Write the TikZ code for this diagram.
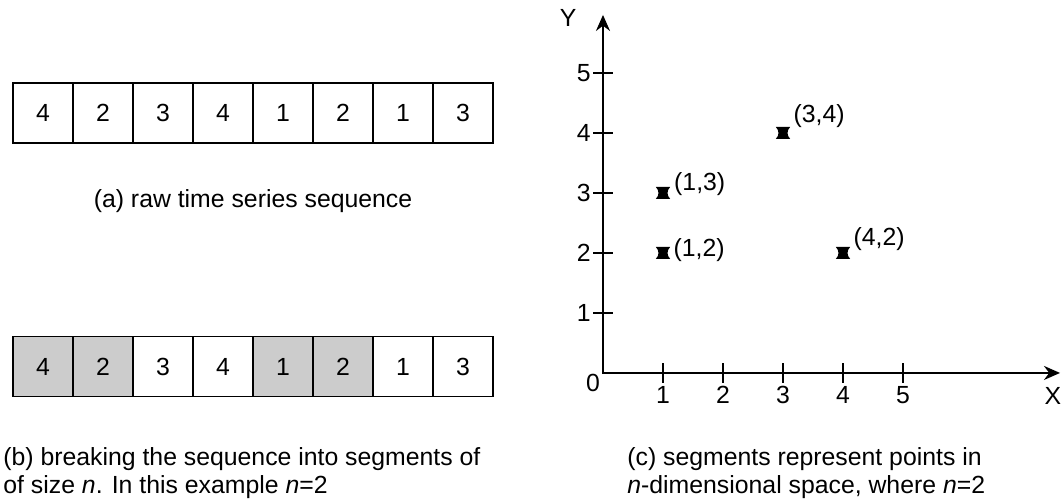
\documentclass[tikz,border=0pt]{standalone}
\usepackage{fontspec}
\setmainfont{Liberation Sans}
\usetikzlibrary{arrows.meta}

\begin{document}
\begin{tikzpicture}[x=30pt,y=30pt,>=Stealth,font=\fontsize{12.4}{14}\selectfont,
  cell/.style={draw,line width=0.7pt,minimum size=30pt,inner sep=0pt,outer sep=0pt},
  seg/.style={cell,fill=black!20},
  capt/.style={inner sep=0pt,align=left},
  lbl/.style={inner sep=0pt},
  hglass/.pic={\fill (-0.12,0.1) -- (0.12,0.1) .. controls (0.06,0.04) and (0.06,-0.04) .. (0.12,-0.1)
     -- (-0.12,-0.1) .. controls (-0.06,-0.04) and (-0.06,0.04) .. (-0.12,0.1) -- cycle;}]
\useasboundingbox (0,0) rectangle (17.7,8.383);
% (a) raw sequence
\foreach \v [count=\i] in {4,2,3,4,1,2,1,3}
  \node[cell] (a\i) at (\i-0.283,6.5) {\v};
\node[capt,anchor=base] (capA) at (4.217,4.917) {(a) raw time series sequence};
% (b) segments of size n
\foreach \v/\s [count=\i] in {4/seg,2/seg,3/cell,4/cell,1/seg,2/seg,1/cell,3/cell}
  \node[\s] (b\i) at (\i-0.283,2.275) {\v};
\node[capt,anchor=base west] (capB) at (0.05,0.15)
  {(b) breaking the sequence into segments of\\of size \textit{n}. In this example \textit{n}=2};
% (c) points in n-dimensional space
\begin{scope}[shift={(10.05,2.167)}]
\coordinate (O) at (0,0);
\coordinate (xend) at (7.617,0);
\coordinate (yend) at (0,5.967);
\draw[line width=1pt,{Stealth[length=8pt,width=7pt]}-{Stealth[length=8pt,width=7pt]}] (yend) -- (O) -- (xend);
\foreach \k in {1,...,5} {
  \draw[line width=0.7pt] (-0.16,\k) -- (0.16,\k);
  \draw[line width=0.7pt] (\k,-0.16) -- (\k,0.16);
  \node[lbl,anchor=east] (yt\k) at (-0.2,\k) {\k};
  \node[lbl,anchor=north] (xt\k) at (\k,-0.22) {\k};
}
\node[lbl] (zero) at (-0.167,-0.167) {0};
\node[lbl] (ylab) at (-0.583,5.917) {Y};
\node[lbl] (xlab) at (7.5,-0.383) {X};
\foreach \px/\py/\dx/\dy in {1/3/0.18/0.15,3/4/0.17/0.275,1/2/0.17/0.05,4/2/0.17/0.225} {
  \coordinate (p\px\py) at (\px,\py);
  \pic at (p\px\py) {hglass};
  \node[lbl,anchor=west] (l\px\py) at ([shift={(\dx,\dy)}]p\px\py) {(\px,\py)};
}
\end{scope}
\node[capt,anchor=base west] (capC) at (10.45,0.15)
  {(c) segments represent points in\\\textit{n}-dimensional space, where \textit{n}=2};
\end{tikzpicture}
\end{document}
